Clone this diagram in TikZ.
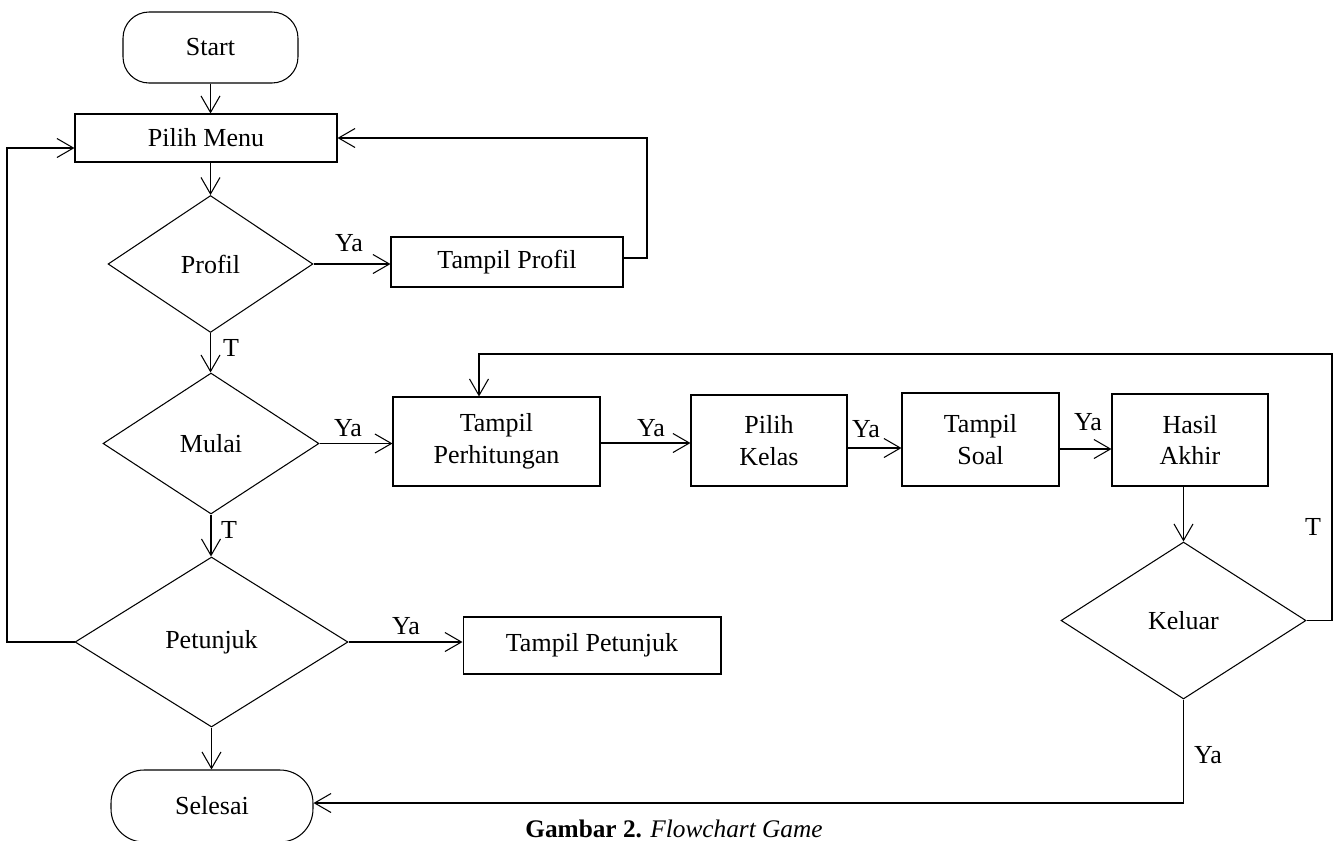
\documentclass[tikz,border=0pt]{standalone}
\usepackage{fontspec}
\setmainfont{Liberation Serif}
\usetikzlibrary{shapes.geometric,arrows.meta}
\tikzset{
  every node/.style={font=\fontsize{14.8pt}{18pt}\selectfont},
  boxnode/.style={draw, line width=0.6pt, inner sep=0pt, align=center},
  decnode/.style={diamond, draw, line width=0.6pt, inner sep=0pt, align=center},
  termnode/.style={draw, line width=0.6pt, inner sep=0pt, align=center},
  arr/.style={-{Straight Barb[length=3.3mm,width=3.8mm]}, line width=0.6pt},
  lbl/.style={inner sep=0pt}
}
\begin{document}
\begin{tikzpicture}[x=0.02cm,y=-0.02cm]
\clip (0,0) rectangle (1336,840);
\fill[white] (0,0) rectangle (1336,840);
% nodes
\node[termnode, rounded corners=0.52cm, minimum width=3.5cm, minimum height=1.42cm] (start) at (210.5,47.5) {Start};
\node[boxnode, minimum width=5.24cm, minimum height=0.96cm] (menu) at (206,138) {Pilih Menu};
\node[decnode, minimum width=4.1cm, minimum height=2.74cm] (profil) at (210.5,264) {Profil};
\node[boxnode, minimum width=4.64cm, minimum height=1.0cm] (tprofil) at (507,262) {Tampil Profil};
\node[decnode, minimum width=4.32cm, minimum height=2.82cm] (mulai) at (211,443.5) {Mulai};
\node[boxnode, minimum width=4.14cm, minimum height=1.78cm] (tperh) at (496.5,441.5) {Tampil\\Perhitungan};
\node[boxnode, minimum width=3.12cm, minimum height=1.82cm] (pkelas) at (769,440.5) {Pilih\\Kelas};
\node[boxnode, minimum width=3.14cm, minimum height=1.86cm] (tsoal) at (980.5,439.5) {Tampil\\Soal};
\node[boxnode, minimum width=3.12cm, minimum height=1.84cm] (hasil) at (1190,440) {Hasil\\Akhir};
\node[decnode, minimum width=4.9cm, minimum height=3.14cm] (keluar) at (1183.5,620.5) {Keluar};
\node[decnode, minimum width=5.46cm, minimum height=3.4cm] (petunjuk) at (211.5,642) {Petunjuk};
\node[boxnode, minimum width=5.16cm, minimum height=1.14cm] (tpetunjuk) at (592,645.5) {Tampil Petunjuk};
\node[termnode, rounded corners=0.66cm, minimum width=4.04cm, minimum height=1.44cm] (selesai) at (212,806) {Selesai};
% connectors
\draw[arr] (start) -- (start |- menu.north);
\draw[arr] (profil |- menu.south) -- (profil.north);
\draw[arr] (profil.east) -- (profil.east -| tprofil.west);
\node[lbl] (ya1) at (349,243) {Ya};
\coordinate (c1) at (647,258);
\draw[arr] (tprofil.east |- c1) -- (c1) -- (c1 |- menu.east) -- (menu.east);
\draw[arr] (profil.south) -- (profil.south |- mulai.north);
\node[lbl] (t1) at (231,348) {T};
\draw[arr] (mulai.east) -- (mulai.east -| tperh.west);
\node[lbl] (ya2) at (348,428) {Ya};
\draw[arr] (mulai.south) -- (mulai.south |- petunjuk.north);
\node[lbl] (t2) at (229,530) {T};
\draw[arr] (petunjuk.east) -- (petunjuk.east -| tpetunjuk.west);
\node[lbl] (ya3) at (406,626) {Ya};
\coordinate (c2) at (7,148);
\draw[arr] (petunjuk.west) -| (c2) -- (c2 -| menu.west);
\draw[arr] (petunjuk.south) -- (petunjuk.south |- selesai.north);
\draw[arr] ([yshift=-0.03cm]tperh.east) coordinate (p1) -- (p1 -| pkelas.west);
\node[lbl] (ya4) at (651,428) {Ya};
\draw[arr] ([yshift=-0.15cm]pkelas.east) coordinate (p2) -- (p2 -| tsoal.west);
\node[lbl] (ya5) at (866,429) {Ya};
\draw[arr] ([yshift=-0.19cm]tsoal.east) coordinate (p3) -- (p3 -| hasil.west);
\node[lbl] (ya6) at (1088,422) {Ya};
\draw[arr] (hasil.south -| keluar.north) -- (keluar.north);
\coordinate (c3) at (1332,354);
\coordinate (c4) at (479,354);
\draw[arr] (keluar.east) -| (c3) -- (c4) -- (c4 |- tperh.north);
\node[lbl] (t3) at (1313,527) {T};
\coordinate (c5) at (1183.5,803);
\draw[arr] (keluar.south) -- (c5) -- (c5 -| selesai.east);
\node[lbl] (ya7) at (1208,755) {Ya};
% caption
\node[anchor=base west, inner sep=0pt, font=\fontsize{14.4pt}{17pt}\selectfont] (cap) at (525,837) {\textbf{Gambar 2.} \textit{Flowchart Game}};
\end{tikzpicture}
\end{document}
